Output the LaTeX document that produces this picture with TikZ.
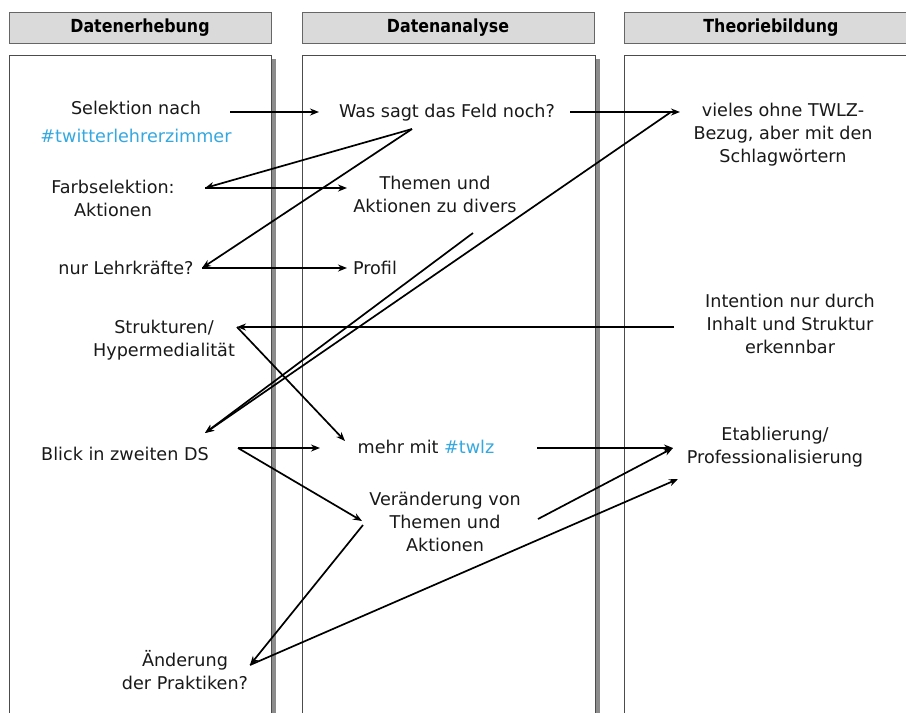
\documentclass[tikz,border=0pt]{standalone}
\usepackage{fontspec}
\setmainfont{DejaVu Sans}
\newfontfamily\headfont[FakeStretch=0.88]{DejaVu Sans}
\usepackage{tikz}
\usetikzlibrary{arrows.meta}
\definecolor{twblue}{RGB}{52,168,224}
\definecolor{headgray}{RGB}{218,218,218}

\begin{document}
\begin{tikzpicture}[x=1pt,y=-1pt,
    txt/.style={anchor=base,align=center,inner sep=0pt,text=black!90,font=\fontsize{17.6}{23}\selectfont},
    head/.style={draw=black!60,fill=headgray,line width=0.9pt,minimum height=31pt,inner sep=0pt,font=\headfont\bfseries\fontsize{18}{22}\selectfont},
    column/.style={draw=black!70,line width=0.8pt,fill=white},
    shade/.style={fill=black!45},
    conn/.style={-{Stealth[length=9pt,width=7pt]},line width=1.7pt}]
    \useasboundingbox (0,0) rectangle (906,713);

    % headers
    \node[head,minimum width=262pt] (h1) at (140,27.5) {Datenerhebung};
    \node[head,minimum width=292pt] (h2) at (448,27.5) {Datenanalyse};
    \node[head,minimum width=294pt] (h3) at (771,27.5) {Theoriebildung};

    % columns
    \fill[shade] (271,59) rectangle (276,730);
    \fill[shade] (595,59) rectangle (599.5,730);
    \draw[column] (9,55) rectangle (271,730);
    \draw[column] (302,55) rectangle (595,730);
    \draw[column] (624,55) rectangle (930,730);

    % base = last line
    \node[txt] (sel) at (136,142) {Selektion nach\\[5pt]\textcolor{twblue}{\#twitterlehrerzimmer}};
    \node[txt] (farb) at (113,216) {Farbselektion:\\Aktionen};
    \node[txt] (lehr) at (126,274) {nur Lehrkräfte?};
    \node[txt] (struk) at (164,356) {Strukturen/\\Hypermedialität};
    \node[txt] (blick) at (125,460) {Blick in zweiten DS};
    \node[txt] (aend) at (185,689) {Änderung\\der Praktiken?};
    \node[txt] (feld) at (447,117.5) {Was sagt das Feld noch?};
    \node[txt] (them) at (435,212) {Themen und\\Aktionen zu divers};
    \node[txt] (prof) at (375,274) {Profil};
    \node[txt] (mehr) at (426,453) {mehr mit \textcolor{twblue}{\#twlz}};
    \node[txt] (ver) at (445,551) {Veränderung von\\Themen und\\Aktionen};
    \node[txt] (viel) at (783,162) {vieles ohne TWLZ-\\Bezug, aber mit den\\Schlagwörtern};
    \node[txt] (intent) at (790,353) {Intention nur durch\\Inhalt und Struktur\\erkennbar};
    \node[txt] (etab) at (775,463) {Etablierung/\\Professionalisierung};

    % arrow ends
    \coordinate (sel-r) at (230,112);
    \coordinate (feld-l) at (319,112);
    \coordinate (feld-r) at (570,112);
    \coordinate (feld-b) at (412,129);
    \coordinate (viel-l) at (680,112);
    \coordinate (viel-t) at (671,112);
    \coordinate (farb-r) at (205,188);
    \coordinate (them-l) at (347,188);
    \coordinate (them-b) at (473,233);
    \coordinate (lehr-r) at (202,268);
    \coordinate (prof-l) at (347,268);
    \coordinate (intent-l) at (674,327);
    \coordinate (struk-r) at (237,327);
    \coordinate (blick-t) at (205,433);
    \coordinate (blick-r) at (238,448);
    \coordinate (mehr-l) at (320,448);
    \coordinate (mehr-t) at (345,441);
    \coordinate (mehr-r) at (537,448);
    \coordinate (ver-l) at (362,521);
    \coordinate (ver-r) at (538,519);
    \coordinate (ver-b) at (363,525);
    \coordinate (etab-l) at (673,448);
    \coordinate (etab-b) at (678,479);
    \coordinate (aend-r) at (250,665);

    \path[conn]
    (sel-r) edge (feld-l)
    (feld-r) edge (viel-l)
    (feld-b) edge (farb-r)
    (farb-r) edge (them-l)
    (feld-b) edge (lehr-r)
    (lehr-r) edge (prof-l)
    (them-b) edge (blick-t)
    (viel-t) edge (blick-t)
    (intent-l) edge (struk-r)
    (struk-r) edge (mehr-t)
    (blick-r) edge (mehr-l)
    (blick-r) edge (ver-l)
    (mehr-r) edge (etab-l)
    (ver-r) edge (etab-l)
    (aend-r) edge (etab-b)
    (ver-b) edge (aend-r);
\end{tikzpicture}
\end{document}
